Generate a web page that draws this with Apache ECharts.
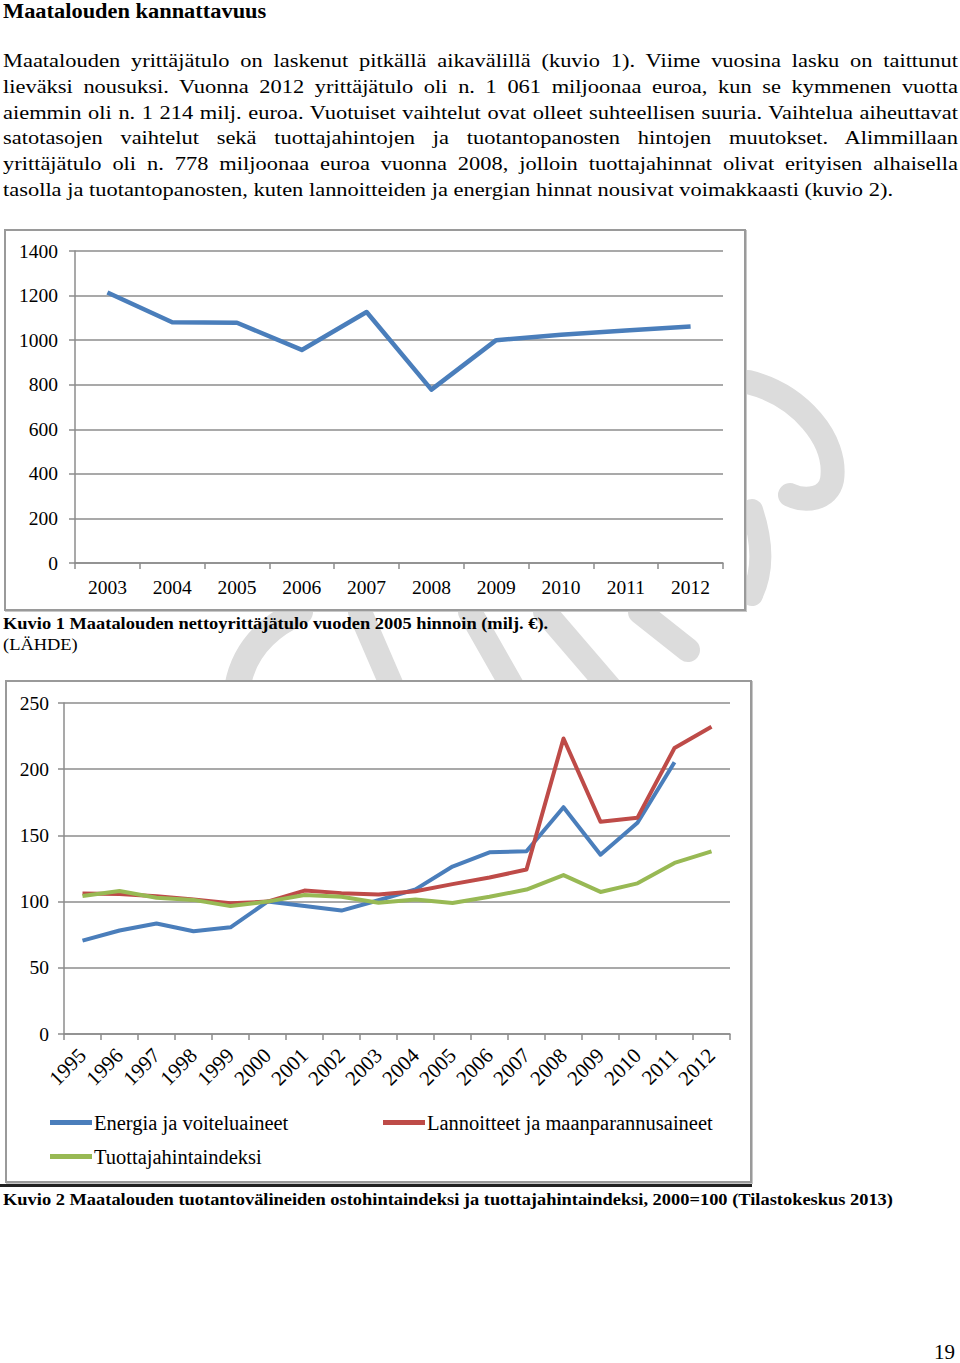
<!DOCTYPE html>
<html>
<head>
<meta charset="utf-8">
<script src="https://cdn.jsdelivr.net/npm/echarts@6/dist/echarts.min.js"></script>
<style>
  html, body { margin:0; padding:0; background:#fff; }
  body { width:960px; height:1363px; position:relative; overflow:hidden; font-family:"Liberation Serif","Times New Roman",serif; color:#000; }
  .abs { position:absolute; }
  #title { left:3px; top:0px; font-size:20px; line-height:22px; font-weight:bold; white-space:nowrap; transform-origin:0 0; transform:scaleX(1.12); }
  #para { left:3px; top:48px; width:830px; font-size:19.5px; line-height:25.8px; transform-origin:0 0; transform:scaleX(1.1506); }
  #para div { text-align:justify; text-align-last:justify; white-space:nowrap; }
  #para div.last { text-align-last:left; }
  .box { position:absolute; border:2px solid #9a9a9a; background:#fff; box-shadow:1px 1px 0 #c8c8c8; }
  .cap { font-size:17px; line-height:20px; white-space:nowrap; transform-origin:0 0; transform:scaleX(1.083); }
  #wm { position:absolute; left:0; top:0; }
</style>
</head>
<body>
<svg id="wm" width="960" height="1363">
  <g fill="none" stroke="#dcdcdc" stroke-linecap="round">
    <path d="M748,382 C800,395 838,440 832,480 C828,500 805,502 790,495" stroke-width="24"/>
    <path d="M752,510 C762,540 764,570 752,595" stroke-width="22"/>
    <path d="M236,700 C238,660 260,630 300,612" stroke-width="26"/>
    <path d="M398,700 L360,612" stroke-width="24"/>
    <path d="M520,700 L470,612" stroke-width="24"/>
    <path d="M612,690 L545,612" stroke-width="24"/>
    <path d="M688,650 L640,612" stroke-width="24"/>
  </g>
</svg>

<div id="title" class="abs">Maatalouden kannattavuus</div>
<div id="para" class="abs">
  <div>Maatalouden yrittäjätulo on laskenut pitkällä aikavälillä (kuvio 1). Viime vuosina lasku on taittunut</div>
  <div>lieväksi nousuksi. Vuonna 2012 yrittäjätulo oli n. 1 061 miljoonaa euroa, kun se kymmenen vuotta</div>
  <div>aiemmin oli n. 1 214 milj. euroa. Vuotuiset vaihtelut ovat olleet suhteellisen suuria. Vaihtelua aiheuttavat</div>
  <div>satotasojen vaihtelut sekä tuottajahintojen ja tuotantopanosten hintojen muutokset. Alimmillaan</div>
  <div>yrittäjätulo oli n. 778 miljoonaa euroa vuonna 2008, jolloin tuottajahinnat olivat erityisen alhaisella</div>
  <div class="last">tasolla ja tuotantopanosten, kuten lannoitteiden ja energian hinnat nousivat voimakkaasti (kuvio 2).</div>
</div>

<div class="box" style="left:4px;top:229px;width:738px;height:378px;">
  <div id="c1" style="width:738px;height:378px;"></div>
</div>
<div class="abs cap" style="left:3px;top:614px;font-weight:bold;">Kuvio 1 Maatalouden nettoyrittäjätulo vuoden 2005 hinnoin (milj. €).</div>
<div class="abs cap" style="left:3px;top:635px;">(LÄHDE)</div>

<div class="box" style="left:5px;top:680px;width:743px;height:499px;">
  <div id="c2" style="width:743px;height:499px;"></div>
</div>
<div class="abs" style="left:0;top:1184px;width:752px;height:3px;background:#222;"></div>
<div class="abs cap" style="left:3px;top:1190px;font-weight:bold;">Kuvio 2 Maatalouden tuotantovälineiden ostohintaindeksi ja tuottajahintaindeksi, 2000=100 (Tilastokeskus 2013)</div>

<div class="abs" style="left:934px;top:1340px;font-size:21px;">19</div>

<script>
// ---- Data: Kuvio 1 ----
const years1 = ['2003','2004','2005','2006','2007','2008','2009','2010','2011','2012'];
const yrittajatulo = [1214, 1080, 1078, 956, 1126, 778, 1000, 1024, 1043, 1061];

// ---- Data: Kuvio 2 ----
const years2 = ['1995','1996','1997','1998','1999','2000','2001','2002','2003','2004','2005','2006','2007','2008','2009','2010','2011','2012'];
const energia = [70.5, 78.2, 83.5, 77.6, 80.6, 100, 96.6, 93.2, 101, 109.2, 126.5, 137.2, 138, 171.3, 135.4, 159.5, 205.2, null];
const lannoitteet = [106.2, 105.7, 104.1, 101.5, 98.7, 100, 108.3, 106.4, 105.4, 107.8, 113.2, 118.2, 124.2, 223.2, 160.3, 163.4, 216, 232];
const tuottaja = [104.2, 108, 102.9, 101.3, 96.6, 100, 105, 103.6, 99.2, 101.6, 99, 103.6, 109.1, 120, 107.3, 113.8, 129.2, 138];

const seriesNames = ['Energia ja voiteluaineet', 'Lannoitteet ja maanparannusaineet', 'Tuottajahintaindeksi'];
const yTicks1 = { min: 0, max: 1400, interval: 200 };
const yTicks2 = { min: 0, max: 250, interval: 50 };

const FONT = 'Liberation Serif';
const GRAY = '#8c8c8c';
const plain = v => String(v);

const c1 = echarts.init(document.getElementById('c1'), null, { renderer: 'svg' });
c1.setOption({
  animation: false,
  grid: { left: 69, top: 20, width: 648, height: 312, containLabel: false },
  xAxis: {
    type: 'category', data: years1, boundaryGap: true,
    axisLine: { lineStyle: { color: GRAY, width: 1.5 } },
    axisTick: { show: true, length: 6, lineStyle: { color: GRAY, width: 1.5 } },
    axisLabel: { color: '#000', fontFamily: FONT, fontSize: 19.5, margin: 14 }
  },
  yAxis: {
    type: 'value', min: yTicks1.min, max: yTicks1.max, interval: yTicks1.interval,
    axisLine: { show: true, lineStyle: { color: GRAY, width: 1.5 } },
    axisTick: { show: true, length: 6, lineStyle: { color: GRAY, width: 1.5 } },
    axisLabel: { color: '#000', fontFamily: FONT, fontSize: 19.5, margin: 17, formatter: plain },
    splitLine: { lineStyle: { color: GRAY, width: 1.5 } }
  },
  series: [{
    type: 'line', data: yrittajatulo, symbol: 'none',
    lineStyle: { color: '#4a7ebb', width: 4.5, join: 'round' }
  }]
});

const c2 = echarts.init(document.getElementById('c2'), null, { renderer: 'svg' });
const legendCommon = {
  icon: 'rect', itemWidth: 42, itemHeight: 5, itemGap: 0, padding: 0,
  textStyle: { fontFamily: FONT, fontSize: 20.5, color: '#000', padding: [0, 0, 0, -3] },
  selectedMode: false
};
c2.setOption({
  animation: false,
  color: ['#4a7ebb', '#be4b48', '#98b954'],
  legend: [
    Object.assign({ left: 43, top: 430, data: [seriesNames[0]] }, legendCommon),
    Object.assign({ left: 376, top: 430, data: [seriesNames[1]] }, legendCommon),
    Object.assign({ left: 43, top: 464, data: [seriesNames[2]] }, legendCommon)
  ],
  grid: { left: 57, top: 21, width: 666, height: 331, containLabel: false },
  xAxis: {
    type: 'category', data: years2, boundaryGap: true,
    axisLine: { lineStyle: { color: GRAY, width: 1.5 } },
    axisTick: { show: true, length: 6, lineStyle: { color: GRAY, width: 1.5 } },
    axisLabel: { color: '#000', fontFamily: FONT, fontSize: 21, margin: 18, rotate: 45, interval: 0 }
  },
  yAxis: {
    type: 'value', min: yTicks2.min, max: yTicks2.max, interval: yTicks2.interval,
    axisLine: { show: true, lineStyle: { color: GRAY, width: 1.5 } },
    axisTick: { show: true, length: 6, lineStyle: { color: GRAY, width: 1.5 } },
    axisLabel: { color: '#000', fontFamily: FONT, fontSize: 19.5, margin: 15, formatter: plain },
    splitLine: { lineStyle: { color: GRAY, width: 1.5 } }
  },
  series: [
    { name: seriesNames[0], type: 'line', data: energia, symbol: 'none', lineStyle: { width: 4, join: 'round' } },
    { name: seriesNames[1], type: 'line', data: lannoitteet, symbol: 'none', lineStyle: { width: 4, join: 'round' } },
    { name: seriesNames[2], type: 'line', data: tuottaja, symbol: 'none', lineStyle: { width: 4, join: 'round' } }
  ]
});
</script>
</body>
</html>
